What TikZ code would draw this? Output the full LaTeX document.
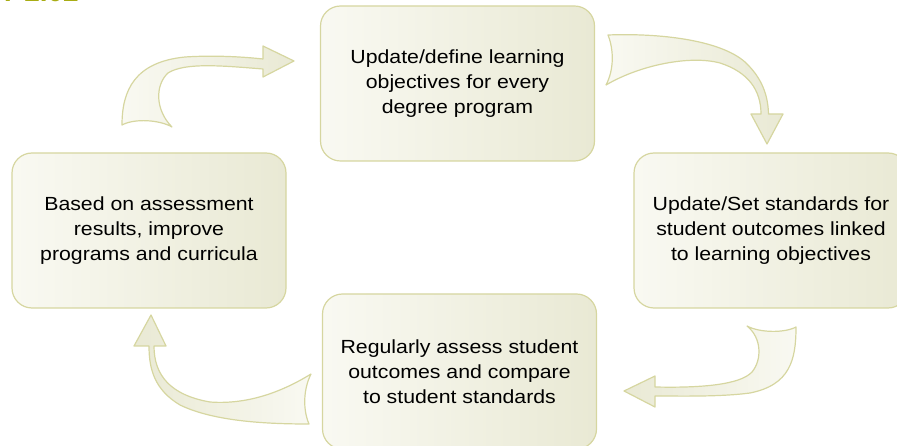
\documentclass[tikz,border=0pt]{standalone}
\usepackage{fontspec}
\setmainfont{Liberation Sans}[FakeStretch=1.12]
\newfontfamily\labelfont{Liberation Sans}
\definecolor{bdr}{RGB}{214,214,160}
\definecolor{lite}{RGB}{249,249,242}
\definecolor{dark}{RGB}{233,233,212}
\definecolor{olivetxt}{RGB}{168,172,20}
\begin{document}
\begin{tikzpicture}[x=1pt,y=-1pt,
  box/.style={draw=bdr, line width=1.2pt, rounded corners=20pt,
    left color=lite, right color=dark, minimum width=274pt,
    minimum height=155pt, align=center, inner sep=0pt,
    font=\fontsize{19}{25}\selectfont},
  blockarrow/.style={draw=bdr, line width=1.2pt, line join=round}]
\useasboundingbox (0,0) rectangle (897,446);
\clip (0,0) rectangle (897,446);

\node[font=\labelfont\bfseries\fontsize{28}{30}\selectfont, text=olivetxt,
  anchor=base east, inner sep=0pt] (fig) at (79,2) {EXHIBIT 2.02};

\node[box] (L) at (149,230.5) {Based on assessment\\results, improve\\programs and curricula};
\node[box] (T) at (457.5,83.5) {Update/define learning\\objectives for every\\degree program};
\node[box] (R) at (771,230.5) {Update/Set standards for\\student outcomes linked\\to learning objectives};
\node[box] (B) at (459.5,371.5) {Regularly assess student\\outcomes and compare\\to student standards};

% arrow L -> T
\path[blockarrow, left color=lite, right color=dark]
  (122,125) .. controls (122,90) and (135,62) .. (185,57)
  .. controls (215,55) and (245,57) .. (263,59)
  -- (263,46) -- (294,61) -- (263,77) -- (263,69)
  .. controls (225,66) and (185,62) .. (168,73)
  .. controls (155,85) and (155,110) .. (172,127)
  .. controls (160,120) and (135,118) .. (122,125) -- cycle;

% arrow T -> R
\path[blockarrow, left color=lite, right color=dark]
  (608,35) .. controls (660,33) and (720,40) .. (745,62)
  .. controls (762,78) and (768,95) .. (768.5,114)
  -- (783,114) -- (767,144) -- (751,114) -- (761,114)
  .. controls (761,90) and (748,72) .. (720,63)
  .. controls (690,55) and (640,65) .. (606,85)
  .. controls (614,70) and (614,50) .. (608,35) -- cycle;

% arrow R -> B
\path[blockarrow, left color=dark, right color=lite]
  (796,327) .. controls (796,360) and (790,385) .. (750,393)
  .. controls (720,397) and (680,396) .. (655,396)
  -- (655,407) -- (624,391) -- (655,376) -- (655,387)
  .. controls (700,388) and (740,385) .. (752,372)
  .. controls (762,360) and (762,338) .. (747,326)
  .. controls (760,333) and (785,333) .. (796,327) -- cycle;

% arrow B -> L
\path[blockarrow, left color=dark, right color=lite]
  (309,424) .. controls (270,424) and (215,422) .. (180,405)
  .. controls (155,390) and (149,370) .. (149,346)
  -- (134,346) -- (151,315) -- (166,346) -- (154,346)
  .. controls (154,375) and (170,395) .. (210,402)
  .. controls (250,405) and (285,390) .. (311,374)
  .. controls (303,390) and (303,410) .. (309,424) -- cycle;
\end{tikzpicture}
\end{document}
